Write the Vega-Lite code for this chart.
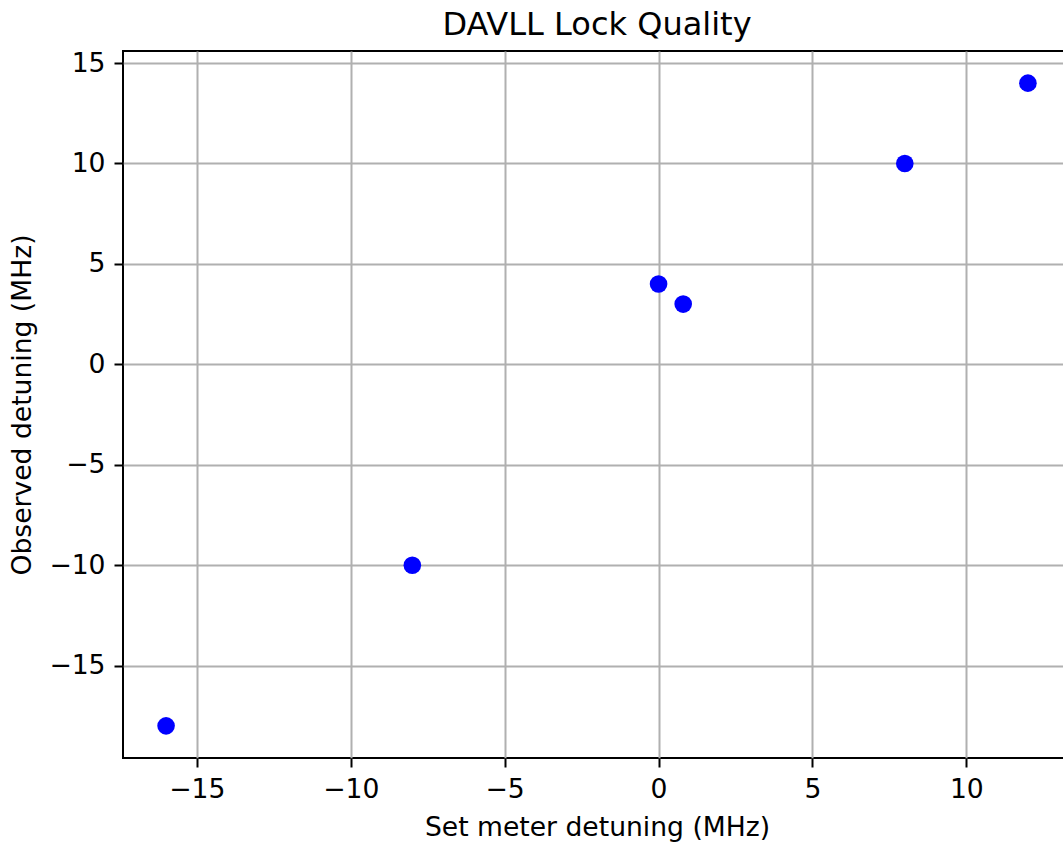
{
  "$schema": "https://vega.github.io/schema/vega-lite/v6.json",
  "autosize": "none",
  "padding": {"left": 123, "top": 51, "right": 0, "bottom": 84},
  "width": 948,
  "height": 707,
  "background": "white",
  "title": {"text": "DAVLL Lock Quality", "font": "DejaVu Sans", "fontSize": 32, "fontWeight": "normal", "color": "black", "offset": 8, "anchor": "middle"},
  "config": {
    "view": {"stroke": "black", "strokeWidth": 2},
    "axis": {
      "labelFont": "DejaVu Sans", "labelFontSize": 26.6, "labelColor": "black",
      "titleFont": "DejaVu Sans", "titleFontSize": 26.6, "titleFontWeight": "normal", "titleColor": "black",
      "grid": true, "gridColor": "#b0b0b0", "gridWidth": 2,
      "tickColor": "black", "tickSize": 9, "tickWidth": 2,
      "domain": false, "labelPadding": 9
    }
  },
  "data": {"values": [
    {"set": -16, "obs": -18},
    {"set": -8, "obs": -10},
    {"set": 0, "obs": 4},
    {"set": 0.8, "obs": 3},
    {"set": 8, "obs": 10},
    {"set": 12, "obs": 14}
  ]},
  "mark": {"type": "point", "filled": true, "shape": "circle", "size": 310, "color": "#0000ff", "opacity": 1},
  "encoding": {
    "x": {"field": "set", "type": "quantitative", "title": "Set meter detuning (MHz)",
      "scale": {"domain": [-17.4, 13.4], "nice": false, "zero": false},
      "axis": {"values": [-15, -10, -5, 0, 5, 10], "titlePadding": 12}},
    "y": {"field": "obs", "type": "quantitative", "title": "Observed detuning (MHz)",
      "scale": {"domain": [-19.6, 15.6], "nice": false, "zero": false},
      "axis": {"values": [-15, -10, -5, 0, 5, 10, 15], "titlePadding": 12}}
  }
}
